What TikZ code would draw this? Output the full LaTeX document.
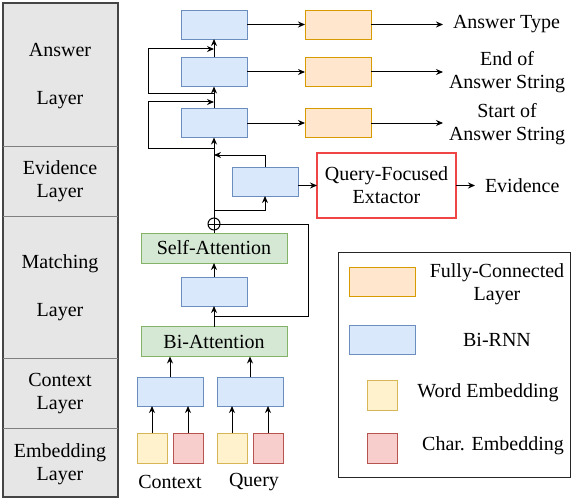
\documentclass[tikz,border=0pt]{standalone}
\usepackage{fontspec}
\setmainfont{Liberation Serif}
\newfontfamily\dfont{Liberation Serif}
\usetikzlibrary{arrows.meta,calc}
\definecolor{bluefill}{HTML}{DAE8FC}\definecolor{blueline}{HTML}{6C8EBF}
\definecolor{orfill}{HTML}{FFE6CC}\definecolor{orline}{HTML}{D79B00}
\definecolor{yefill}{HTML}{FFF2CC}\definecolor{yeline}{HTML}{D6B656}
\definecolor{rdfill}{HTML}{F8CECC}\definecolor{rdline}{HTML}{B85450}
\definecolor{grfill}{HTML}{D5E8D4}\definecolor{grline}{HTML}{82B366}
\definecolor{qfeline}{HTML}{F04545}
\definecolor{colfill}{HTML}{E6E6E6}\definecolor{colline}{HTML}{454545}
\begin{document}
\begin{tikzpicture}[x=1pt,y=-1pt,
  every node/.style={font=\dfont\fontsize{20}{23}\selectfont, inner sep=0pt, outer sep=0pt},
  box/.style={draw, line width=0.9pt, minimum width=66pt, minimum height=29pt},
  bluebox/.style={box, fill=bluefill, draw=blueline},
  orbox/.style={box, fill=orfill, draw=orline},
  yebox/.style={box, fill=yefill, draw=yeline, minimum width=30pt, minimum height=30pt},
  rdbox/.style={box, fill=rdfill, draw=rdline, minimum width=30pt, minimum height=30pt},
  grbox/.style={box, fill=grfill, draw=grline, minimum width=146pt, minimum height=30pt},
  arr/.style={-{Stealth[length=7pt,width=6pt]}, line width=1pt},
  ln/.style={line width=1pt},
  lbl/.style={align=center},
  divider/.style={draw=gray, line width=0.8pt}
]
\useasboundingbox (0,0) rectangle (572,500);

% left column
\node[draw=colline, fill=colfill, line width=1.6pt, minimum width=115pt, minimum height=494pt] (col) at (60.5,250) {};
\draw[divider] (col.west |- 0,146) -- (col.east |- 0,146);
\draw[divider] (col.west |- 0,216) -- (col.east |- 0,216);
\draw[divider] (col.west |- 0,358) -- (col.east |- 0,358);
\draw[divider] (col.west |- 0,428) -- (col.east |- 0,428);
\node[lbl] (tans) at (60,76) {Answer\\[25pt]Layer};
\node[lbl] (tevi) at (60,181.5) {Evidence\\Layer};
\node[lbl] (tmat) at (60,287.5) {Matching\\[25pt]Layer};
\node[lbl] (tctx) at (60,393.5) {Context\\Layer};
\node[lbl] (temb) at (60,464.5) {Embedding\\Layer};

% answer layer
\node[bluebox] (b1) at (214,24.5) {};
\node[bluebox] (b2) at (214,72) {};
\node[bluebox] (b3) at (214,123) {};
\node[orbox] (o1) at (338,24.5) {};
\node[orbox] (o2) at (338,72) {};
\node[orbox] (o3) at (338,123) {};
\node[anchor=west, inner xsep=10pt] (l1) at (443,24.5) {Answer Type};
\node[lbl, anchor=west, inner xsep=6pt] (l2) at (443,72) {End of\\Answer String};
\node[lbl, anchor=west, inner xsep=6pt] (l3) at (443,124) {Start of\\Answer String};
\draw[arr] (b1) -- (o1);
\draw[arr] (b2) -- (o2);
\draw[arr] (b3) -- (o3);
\draw[arr] (o1) -- (l1.west);
\draw[arr] (o2) -- (o2.east -| l2.west);
\draw[arr] (o3) -- (o3.east -| l3.west);
\draw[arr] (b2.north) -- (b1.south);
\draw[arr] (b3.north) -- (b2.south);

% loops
\coordinate (lpa) at (214,94);
\coordinate (lpb) at (214,49);
\coordinate (lpc) at (214,148);
\coordinate (lpd) at (214,102);
\draw[arr] (lpa) -- (148,94) -- (148,49) -- (lpb);
\draw[arr] (lpc) -- (148,148) -- (148,102) -- (lpd);

% evidence layer
\node[bluebox] (be) at (265,181.5) {};
\node[draw=qfeline, line width=1.1pt, minimum width=139pt, minimum height=65pt, lbl] (qfe) at (386.5,185.5) {Query-Focused\\Extactor};
\node[anchor=west, inner xsep=10pt] (ev) at (475,185.5) {Evidence};
\draw[arr] (be.east |- qfe.west) -- (qfe.west);
\draw[arr] (qfe) -- (ev);
\coordinate (evin) at (214,210);
\coordinate (evout) at (214,155);
\draw[arr] (evin) -- (be.south |- evin) -- (be.south);
\draw[arr] (be.north) -- (be.north |- evout) -- (evout);

% matching layer
\node[circle, draw, line width=1pt, minimum size=12pt] (plus) at (214,224) {};
\draw[line width=1pt] (plus.north) -- (plus.south) (plus.west) -- (plus.east);
\node[grbox] (sa) at (214,248) {Self-Attention};
\node[bluebox] (bm) at (214,291.5) {};
\node[grbox] (ba) at (214,341.5) {Bi-Attention};
\draw[arr] (plus.north) -- (b3.south);
\draw[ln] (sa.north) -- (plus.south);
\draw[arr] (bm.north) -- (sa.south);
\draw[arr] (ba.north) -- (bm.south);
\coordinate (skip) at (214,316);
\draw[ln] (skip) -- (308,316) -- (308,224) -- (plus.east);

% context layer
\node[bluebox] (cl) at (170,391.5) {};
\node[bluebox] (cr) at (250,391.5) {};
\draw[arr] (cl.north) -- (cl.north |- ba.south);
\draw[arr] (cr.north) -- (cr.north |- ba.south);

% embedding
\node[yebox] (e1) at (152,448) {};
\node[rdbox] (e2) at (188,448) {};
\node[yebox] (e3) at (232,448) {};
\node[rdbox] (e4) at (268,448) {};
\draw[arr] (e1.north) -- (e1.north |- cl.south);
\draw[arr] (e2.north) -- (e2.north |- cl.south);
\draw[arr] (e3.north) -- (e3.north |- cr.south);
\draw[arr] (e4.north) -- (e4.north |- cr.south);
\node (tc) at (170,482) {Context};
\node (tq) at (254,482) {Query};

% legend
\node[draw=black!85, line width=1pt, minimum width=232pt, minimum height=225pt] (leg) at (454,364.5) {};
\node[orbox] (lo) at (382,281.5) {};
\node[lbl] (lot) at (497,284.5) {Fully-Connected\\Layer};
\node[bluebox] (lb) at (382,339.5) {};
\node (lbt) at (497,340) {Bi-RNN};
\node[yebox] (ly) at (382,395) {};
\node (lyt) at (488,393) {Word Embedding};
\node[rdbox] (lr) at (382,448) {};
\node (lrt) at (493,446) {Char. Embedding};
\end{tikzpicture}
\end{document}
